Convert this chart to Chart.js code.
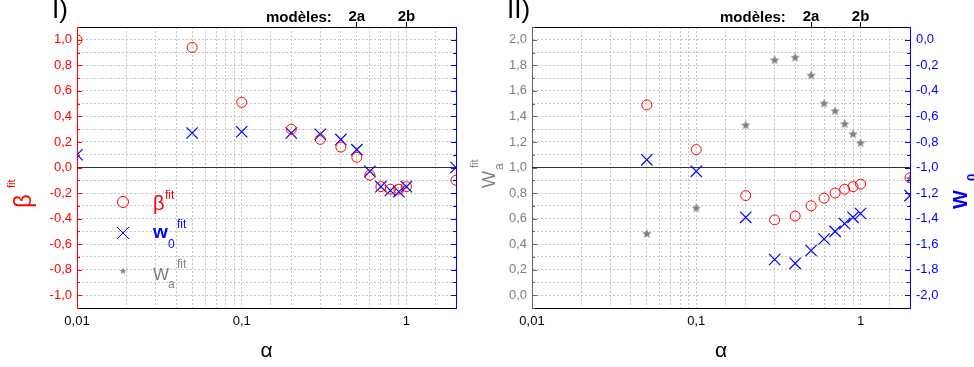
<!DOCTYPE html>
<html>
<head>
<meta charset="utf-8">
<title>Fit parameters vs alpha</title>
<script src="https://cdn.jsdelivr.net/npm/chart.js"></script>
<style>
    body { margin: 0; background: #fff; }
    #wrap { position: relative; width: 974px; height: 367px; overflow: hidden; font-family: "Liberation Sans", Arial, sans-serif; }
    #wrap canvas { position: absolute; top: 0; }
    .lbl { position: absolute; white-space: nowrap; line-height: 1; }
</style>
</head>
<body>
<div id="wrap">
    <canvas id="chartI" width="480" height="367" style="left:0"></canvas>
    <canvas id="chartII" width="494" height="367" style="left:480px"></canvas>
</div>

<script>
    // panel I
    const alphaI = [0.01, 0.05, 0.1, 0.2, 0.3, 0.4, 0.5, 0.6, 0.7, 0.8, 0.9, 1.0, 2.0];
    const betaI  = [1.00, 0.94, 0.51, 0.30, 0.22, 0.16, 0.08, -0.06, -0.15, -0.17, -0.17, -0.15, -0.10];
    const w0I    = [0.10, 0.27, 0.28, 0.27, 0.26, 0.22, 0.14, -0.03, -0.15, -0.18, -0.19, -0.15, 0.00];

    // panel II
    const alphaII = [0.05, 0.1, 0.2, 0.3, 0.4, 0.5, 0.6, 0.7, 0.8, 0.9, 1.0, 2.0];
    const betaII  = [1.49, 1.14, 0.78, 0.59, 0.62, 0.70, 0.76, 0.80, 0.83, 0.85, 0.87, 0.92];
    const w0II    = [-0.94, -1.03, -1.39, -1.72, -1.75, -1.65, -1.56, -1.50, -1.44, -1.39, -1.36, -1.22];
    const waII    = [0.48, 0.68, 1.33, 1.84, 1.86, 1.72, 1.50, 1.44, 1.34, 1.26, 1.19, 0.91];

    // top axis: models
    const modelAlphas = [0.5, 1];
    const modelLabels = ['2a', '2b'];

    const alphaRange = [0.01, 2];
    const RED = '#ff0000', BLUE = '#0000ff', GREY = '#808080';
    const GRID = '#c4c4c4';
    const FONT = '"Liberation Sans", Arial, sans-serif';

    function pts(xs, ys) { return xs.map((x, i) => ({x: x, y: ys[i]})); }

    function makeStar(r, color) {
        const s = Math.ceil(r * 2) + 2;
        const c = document.createElement('canvas');
        c.width = s; c.height = s;
        const g = c.getContext('2d');
        g.fillStyle = color;
        g.beginPath();
        for (let i = 0; i < 10; i++) {
            const rad = i % 2 ? r * 0.42 : r;
            const a = -Math.PI / 2 + i * Math.PI / 5;
            g.lineTo(s / 2 + rad * Math.cos(a), s / 2 + rad * Math.sin(a));
        }
        g.closePath();
        g.fill();
        return c;
    }
    const starBig = makeStar(5, GREY);
    const starSmall = makeStar(3.6, GREY);

    function decLabel(v) {
        const n = Math.round(v * 10);
        if (n % 2 !== 0) return '';
        if (n === 0) return '0,0';
        return (n / 10).toFixed(1).replace('.', ',');
    }
    function logLabel(v) {
        const e = Math.log10(v);
        if (Math.abs(e - Math.round(e)) > 1e-6) return '';
        return String(v).replace('.', ',');
    }
    function fixSize(prop, val) { return (scale) => { scale[prop] = val; }; }

    function xScales() {
        return {
            x: {
                type: 'logarithmic', position: 'bottom',
                min: alphaRange[0], max: alphaRange[1],
                afterFit: fixSize('height', 59),
                ticks: { autoSkip: false, maxRotation: 0, padding: 6, color: '#000',
                         font: {family: FONT, size: 13}, callback: logLabel },
                grid: { color: GRID, drawTicks: false },
                border: { color: '#000', dash: [2, 2] },
                title: { display: true, text: 'α', color: '#000', font: {family: FONT, size: 21},
                         padding: {top: 0, bottom: 3} }
            },
            xTop: {
                type: 'logarithmic', position: 'top',
                min: alphaRange[0], max: alphaRange[1],
                afterFit: fixSize('height', 27),
                afterBuildTicks: (scale) => { scale.ticks = modelAlphas.map(v => ({value: v})); },
                ticks: { autoSkip: false, maxRotation: 0, padding: -4, color: '#000',
                         font: {family: FONT, size: 15, weight: 'bold'},
                         callback: (v, i) => modelLabels[i] },
                grid: { drawOnChartArea: false, color: '#000', tickLength: 5 },
                border: { color: '#000' }
            }
        };
    }

    function baseline(y, axis) {
        return {
            type: 'line', data: alphaRange.map(a => ({x: a, y: y})), yAxisID: axis,
            borderColor: '#333', borderWidth: 1.2, pointRadius: 0, clip: 0
        };
    }

    // short inward tick marks on both value axes, like the original plot
    const innerTicks = {
        id: 'innerTicks',
        afterDatasetsDraw(chart, args, opts) {
            const ctx = chart.ctx, area = chart.chartArea;
            ctx.save();
            ctx.lineWidth = 1;
            [['y', area.left, 1], ['y2', area.right, -1]].forEach(([id, x0, dir]) => {
                const sc = chart.scales[id];
                ctx.strokeStyle = opts[id];
                sc.ticks.forEach(t => {
                    const y = Math.round(sc.getPixelForValue(t.value)) + 0.5;
                    const len = Math.round(t.value * 10) % 2 === 0 ? 5 : 3;
                    ctx.beginPath();
                    ctx.moveTo(x0, y);
                    ctx.lineTo(x0 + dir * len, y);
                    ctx.stroke();
                });
            });
            ctx.restore();
        }
    };

    const legendSymbols = {
        id: 'legendSymbols',
        afterDraw(chart) {
            const ctx = chart.ctx;
            const draw = (style, r, stroke, fill, x, y) => {
                ctx.save();
                ctx.strokeStyle = stroke; ctx.fillStyle = fill; ctx.lineWidth = 1;
                Chart.helpers.drawPoint(ctx, {pointStyle: style, radius: r, borderWidth: 1, rotation: 0}, x, y);
                ctx.restore();
            };
            draw('circle', 5.5, RED, 'rgba(0,0,0,0)', 123, 202);
            draw('crossRot', 8.5, BLUE, BLUE, 123, 233);
            draw(starSmall, 4, GREY, GREY, 123, 271);
        }
    };

    // panel I
    new Chart(document.getElementById('chartI'), {
        type: 'scatter',
        data: {
            datasets: [
                { data: pts(alphaI, betaI), yAxisID: 'y', pointStyle: 'circle', pointRadius: 5,
                  borderColor: RED, backgroundColor: 'rgba(0,0,0,0)', borderWidth: 1, clip: 0 },
                { data: pts(alphaI, w0I), yAxisID: 'y2', pointStyle: 'crossRot', pointRadius: 8,
                  borderColor: BLUE, backgroundColor: BLUE, borderWidth: 1.2, clip: 0 },
                baseline(0, 'y')
            ]
        },
        options: {
            responsive: false, animation: false, devicePixelRatio: 1,
            layout: { padding: 0 },
            plugins: { legend: { display: false }, tooltip: { enabled: false },
                       innerTicks: { y: RED, y2: BLUE } },
            scales: Object.assign(xScales(), {
                y: {
                    position: 'left', min: -1.1, max: 1.1,
                    afterFit: fixSize('width', 77),
                    ticks: { stepSize: 0.1, autoSkip: false, padding: 5, color: RED,
                             font: {family: FONT, size: 13}, callback: decLabel },
                    grid: { color: GRID, drawTicks: false },
                    border: { color: RED, dash: [2, 2] }
                },
                y2: {
                    position: 'right', min: -1.1, max: 1.1,
                    afterFit: fixSize('width', 24),
                    ticks: { display: false, stepSize: 0.1, autoSkip: false },
                    grid: { drawOnChartArea: false, drawTicks: false },
                    border: { color: BLUE }
                }
            })
        },
        plugins: [legendSymbols, innerTicks]
    });

    // panel II
    new Chart(document.getElementById('chartII'), {
        type: 'scatter',
        data: {
            datasets: [
                { data: pts(alphaII, betaII), yAxisID: 'y', pointStyle: 'circle', pointRadius: 5,
                  borderColor: RED, backgroundColor: 'rgba(0,0,0,0)', borderWidth: 1, clip: 0 },
                { data: pts(alphaII, w0II), yAxisID: 'y2', pointStyle: 'crossRot', pointRadius: 8,
                  borderColor: BLUE, backgroundColor: BLUE, borderWidth: 1.2, clip: 0 },
                { data: pts(alphaII, waII), yAxisID: 'y', pointStyle: starBig, pointRadius: 5,
                  borderColor: GREY, backgroundColor: GREY, clip: 0 },
                baseline(1, 'y')
            ]
        },
        options: {
            responsive: false, animation: false, devicePixelRatio: 1,
            layout: { padding: 0 },
            plugins: { legend: { display: false }, tooltip: { enabled: false },
                       innerTicks: { y: '#666', y2: BLUE } },
            scales: Object.assign(xScales(), {
                y: {
                    position: 'left', min: -0.1, max: 2.1,
                    afterFit: fixSize('width', 52),
                    ticks: { stepSize: 0.1, autoSkip: false, padding: 5, color: GREY,
                             font: {family: FONT, size: 13}, callback: decLabel },
                    grid: { color: GRID, drawTicks: false },
                    border: { color: '#666', dash: [2, 2] }
                },
                y2: {
                    position: 'right', min: -2.1, max: 0.1,
                    afterFit: fixSize('width', 64),
                    ticks: { stepSize: 0.1, autoSkip: false, padding: 6, color: BLUE,
                             font: {family: FONT, size: 13}, callback: decLabel },
                    grid: { drawOnChartArea: false, drawTicks: false },
                    border: { color: BLUE }
                }
            })
        },
        plugins: [innerTicks]
    });

    // text overlays, placed by baseline (Liberation Sans: baseline ~0.8465em below box top at line-height 1)
    const wrap = document.getElementById('wrap');
    function text(str, x, base, size, color, weight, rotate) {
        const d = document.createElement('div');
        d.className = 'lbl';
        d.textContent = str;
        d.style.fontSize = size + 'px';
        d.style.color = color;
        d.style.fontWeight = weight || 'normal';
        const b = 0.8465 * size;
        if (rotate) {
            // x = baseline position (horizontal), base = y where text starts (reads upward)
            d.style.left = (x - b) + 'px';
            d.style.top = base + 'px';
            d.style.transformOrigin = '0 0';
            d.style.transform = 'rotate(-90deg)';
        } else {
            d.style.left = x + 'px';
            d.style.top = (base - b) + 'px';
        }
        wrap.appendChild(d);
    }

    text('I)', 52, 18, 26, '#000');
    text('II)', 507, 18, 26, '#000');
    text('modèles:', 266, 22, 15, '#000', 'bold');
    text('modèles:', 720, 22, 15, '#000', 'bold');

    // axis titles
    text('β', 31, 208, 24, RED, 'normal', true);
    text('fit', 15, 188, 11, RED, 'normal', true);
    text('W', 495, 188, 18, GREY, 'normal', true);
    text('a', 503, 170, 12, GREY, 'normal', true);
    text('fit', 478, 168, 11, GREY, 'normal', true);
    text('W', 967, 209, 20, BLUE, 'bold', true);
    text('0', 976, 181, 13, BLUE, 'bold', true);

    // legend texts
    text('β', 153, 210, 20, RED);
    text('fit', 165, 199, 12, RED);
    text('w', 153, 238, 19, BLUE, 'bold');
    text('0', 168, 248, 12, BLUE);
    text('fit', 177, 228, 12, BLUE);
    text('W', 153, 280, 17, GREY);
    text('a', 168, 288, 12, GREY);
    text('fit', 177, 268, 12, GREY);
</script>
</body>
</html>
